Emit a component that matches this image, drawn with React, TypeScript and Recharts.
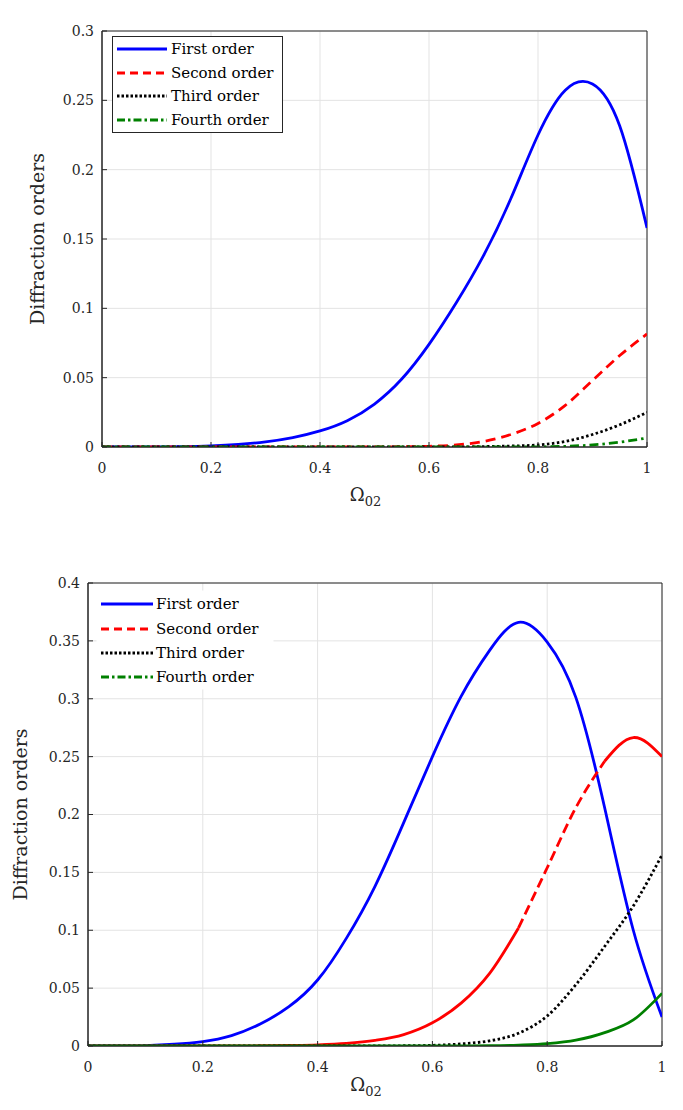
import React from 'react';
import { LineChart, Line, XAxis, YAxis, CartesianGrid, ReferenceArea, Legend, Label } from 'recharts';

const FONT = "'DejaVu Serif', serif";
const AXIS_COLOR = '#262626';

const xGrid = [0, 0.05, 0.1, 0.15, 0.2, 0.25, 0.3, 0.35, 0.4, 0.45, 0.5, 0.55, 0.6, 0.65, 0.7, 0.75, 0.8, 0.85, 0.9, 0.95, 1];

const xTicks = [0, 0.2, 0.4, 0.6, 0.8, 1];
const yTicksA = [0, 0.05, 0.1, 0.15, 0.2, 0.25, 0.3];
const yTicksB = [0, 0.05, 0.1, 0.15, 0.2, 0.25, 0.3, 0.35, 0.4];

// Panel (a)
const firstA = [0, 0.00002, 0.0001, 0.0003, 0.0008, 0.0018, 0.0037, 0.0068, 0.0116, 0.019, 0.031, 0.049, 0.074, 0.104, 0.138, 0.179, 0.225, 0.2573, 0.2618, 0.2315, 0.158];
const secondA = [0, 0, 0, 0, 0, 0, 0, 0, 0, 0, 0.0001, 0.0002, 0.0005, 0.0015, 0.004, 0.009, 0.017, 0.03, 0.048, 0.066, 0.0815];
const thirdA = [0, 0, 0, 0, 0, 0, 0, 0, 0, 0, 0, 0, 0, 0, 0.0003, 0.0007, 0.0015, 0.004, 0.009, 0.016, 0.025];
const fourthA = [0, 0, 0, 0, 0, 0, 0, 0, 0, 0, 0, 0, 0, 0, 0, 0, 0.0001, 0.0005, 0.0015, 0.0035, 0.0065];

// Panel (b)
const firstB = [0, 0.00005, 0.0004, 0.0015, 0.0038, 0.009, 0.019, 0.034, 0.057, 0.093, 0.138, 0.193, 0.25, 0.302, 0.342, 0.366, 0.349, 0.301, 0.206, 0.1, 0.025];
const secondB = [0, 0, 0, 0, 0.00002, 0.00007, 0.0002, 0.0005, 0.001, 0.0022, 0.0048, 0.0098, 0.02, 0.037, 0.063, 0.102, 0.154, 0.206, 0.246, 0.2665, 0.25];
const thirdB = [0, 0, 0, 0, 0, 0, 0, 0, 0, 0, 0.00005, 0.0002, 0.0006, 0.0018, 0.0045, 0.011, 0.026, 0.053, 0.086, 0.121, 0.165];
const fourthB = [0, 0, 0, 0, 0, 0, 0, 0, 0, 0, 0, 0, 0, 0, 0.0002, 0.0008, 0.002, 0.005, 0.0115, 0.0225, 0.0455];

const seriesNames = ['First order', 'Second order', 'Third order', 'Fourth order'];
const seriesColors = ['#0000ff', '#ff0000', '#000000', '#008000'];
const legendDash = [undefined, '8 5', '2.5 2', '8 3 2.5 3'];

// range of the second-order curve in panel (b) where the dashes are visible
const dashRangeB = [0.75, 0.9];

type CurveType = 'natural' | 'monotone';
type LineSpec = { key: string; color: string; dash?: string; curve: CurveType };

const linesA: LineSpec[] = [
  { key: 'first', color: seriesColors[0], curve: 'natural' },
  { key: 'second', color: seriesColors[1], dash: '10 6', curve: 'monotone' },
  { key: 'third', color: seriesColors[2], dash: '2.5 2.5', curve: 'monotone' },
  { key: 'fourth', color: seriesColors[3], dash: '9 4 2.5 4', curve: 'monotone' },
];

const linesB: LineSpec[] = [
  { key: 'first', color: seriesColors[0], curve: 'natural' },
  { key: 'secondLo', color: seriesColors[1], curve: 'monotone' },
  { key: 'secondMid', color: seriesColors[1], dash: '10 5', curve: 'monotone' },
  { key: 'secondHi', color: seriesColors[1], curve: 'natural' },
  { key: 'third', color: seriesColors[2], dash: '2.5 2.5', curve: 'monotone' },
  { key: 'fourth', color: seriesColors[3], curve: 'monotone' },
];

const dataA = xGrid.map((x, i) => ({ x, first: firstA[i], second: secondA[i], third: thirdA[i], fourth: fourthA[i] }));
const dataB = xGrid.map((x, i) => ({
  x,
  first: firstB[i],
  secondLo: x <= dashRangeB[0] ? secondB[i] : null,
  secondMid: x >= dashRangeB[0] && x <= dashRangeB[1] ? secondB[i] : null,
  secondHi: x >= dashRangeB[1] ? secondB[i] : null,
  third: thirdB[i],
  fourth: fourthB[i],
}));

const fmt = (v: number) => String(v);

function LegendBox(props: { width: number; height: number; rows: number[]; border: boolean; x1: number; x2: number; tx: number }) {
  const { width, height, rows, border, x1, x2, tx } = props;
  return (
    <svg width={width} height={height} style={{ display: 'block' }}>
      <rect x={0.5} y={0.5} width={width - 1} height={height - 1} fill="#ffffff" stroke={border ? AXIS_COLOR : 'none'} strokeWidth={1} />
      {seriesNames.map((n, i) => (
        <g key={n}>
          <line x1={x1} x2={x2} y1={rows[i]} y2={rows[i]} stroke={seriesColors[i]} strokeWidth={3} strokeDasharray={legendDash[i]} />
          <text x={tx} y={rows[i]} dominantBaseline="central" fontFamily={FONT} fontSize={15} fill="#000">{n}</text>
        </g>
      ))}
    </svg>
  );
}

type PanelProps = {
  data: Record<string, number | null>[];
  lines: LineSpec[];
  height: number;
  top: number;
  margin: { top: number; right: number; left: number; bottom: number };
  yTicks: number[];
  yMax: number;
  title: string;
  titleY: number;
  centerX: number;
  yLabelX: number;
  yLabelY: number;
  xLabelY: number;
  legend: { left: number; top: number; width: number; height: number; rows: number[]; border: boolean; x1: number; x2: number; tx: number };
};

function Panel(p: PanelProps) {
  const tickStyle = { fontFamily: FONT, fontSize: 14, fill: AXIS_COLOR };
  return (
    <div style={{ position: 'absolute', left: 0, top: p.top, width: 683, height: p.height }}>
      <LineChart width={683} height={p.height} data={p.data} margin={p.margin}>
        <CartesianGrid stroke="#e3e3e3" strokeWidth={1} />
        <XAxis
          dataKey="x"
          type="number"
          domain={[0, 1]}
          ticks={xTicks}
          tickFormatter={fmt}
          height={50}
          tickSize={-5}
          tickMargin={21}
          tick={tickStyle}
          axisLine={{ stroke: AXIS_COLOR }}
          tickLine={{ stroke: AXIS_COLOR }}
          allowDataOverflow
        >
          <Label
            content={() => (
              <text x={p.centerX - 9} y={p.xLabelY} textAnchor="middle" fontFamily={FONT} fontSize={18} fill={AXIS_COLOR}>
                Ω<tspan dy={5} fontSize={13}>02</tspan>
              </text>
            )}
          />
        </XAxis>
        <XAxis
          xAxisId="top"
          orientation="top"
          dataKey="x"
          type="number"
          domain={[0, 1]}
          ticks={xTicks}
          height={0}
          tickSize={-5}
          tick={false}
          axisLine={false}
          tickLine={{ stroke: AXIS_COLOR }}
        >
          <Label
            content={() => (
              <text x={p.centerX} y={p.titleY} textAnchor="middle" dominantBaseline="central" fontFamily={FONT} fontWeight="bold" fontSize={15} fill="#000">
                {p.title}
              </text>
            )}
          />
        </XAxis>
        <YAxis
          type="number"
          domain={[0, p.yMax]}
          ticks={p.yTicks}
          tickFormatter={fmt}
          width={60}
          tickSize={-5}
          tickMargin={13}
          tick={tickStyle}
          axisLine={{ stroke: AXIS_COLOR }}
          tickLine={{ stroke: AXIS_COLOR }}
          allowDataOverflow
        >
          <Label
            content={() => (
              <text
                x={p.yLabelX}
                y={p.yLabelY}
                textAnchor="middle"
                dominantBaseline="central"
                transform={`rotate(-90, ${p.yLabelX}, ${p.yLabelY})`}
                fontFamily={FONT}
                fontSize={19}
                fill={AXIS_COLOR}
              >
                Diffraction orders
              </text>
            )}
          />
        </YAxis>
        <YAxis
          yAxisId="right"
          orientation="right"
          type="number"
          domain={[0, p.yMax]}
          ticks={p.yTicks}
          width={0}
          tickSize={-5}
          tick={false}
          axisLine={false}
          tickLine={{ stroke: AXIS_COLOR }}
        />
        {p.lines.map((l) => (
          <Line
            key={l.key}
            dataKey={l.key}
            type={l.curve}
            stroke={l.color}
            strokeWidth={2.8}
            strokeDasharray={l.dash}
            dot={false}
            activeDot={false}
            connectNulls={false}
            isAnimationActive={false}
          />
        ))}
        <ReferenceArea x1={0} x2={1} y1={0} y2={p.yMax} fill="none" fillOpacity={0} stroke={AXIS_COLOR} strokeWidth={1} ifOverflow="visible" />
        <Legend
          layout="vertical"
          align="center"
          verticalAlign="middle"
          wrapperStyle={{ position: 'absolute', left: p.legend.left, top: p.legend.top, width: p.legend.width, height: p.legend.height }}
          content={() => (
            <LegendBox
              width={p.legend.width}
              height={p.legend.height}
              rows={p.legend.rows}
              border={p.legend.border}
              x1={p.legend.x1}
              x2={p.legend.x2}
              tx={p.legend.tx}
            />
          )}
        />
      </LineChart>
    </div>
  );
}

export default function App() {
  return (
    <div style={{ position: 'absolute', left: 0, top: 0, width: 683, height: 1110, background: '#ffffff' }}>
      <Panel
        data={dataA}
        lines={linesA}
        height={540}
        top={0}
        margin={{ top: 31, right: 36, left: 42, bottom: 43 }}
        yTicks={yTicksA}
        yMax={0.3}
        title="(a)"
        titleY={14}
        centerX={374.5}
        yLabelX={37}
        yLabelY={239}
        xLabelY={501}
        legend={{ left: 112, top: 36, width: 171, height: 97, rows: [13, 37, 60, 84], border: true, x1: 5, x2: 55, tx: 59 }}
      />
      <Panel
        data={dataB}
        lines={linesB}
        height={555}
        top={555}
        margin={{ top: 28, right: 21, left: 28, bottom: 14 }}
        yTicks={yTicksB}
        yMax={0.4}
        title="(b)"
        titleY={13}
        centerX={375}
        yLabelX={20}
        yLabelY={259.5}
        xLabelY={536}
        legend={{ left: 96, top: 35, width: 178, height: 100, rows: [14, 39, 63, 87], border: false, x1: 5, x2: 57, tx: 60 }}
      />
    </div>
  );
}
